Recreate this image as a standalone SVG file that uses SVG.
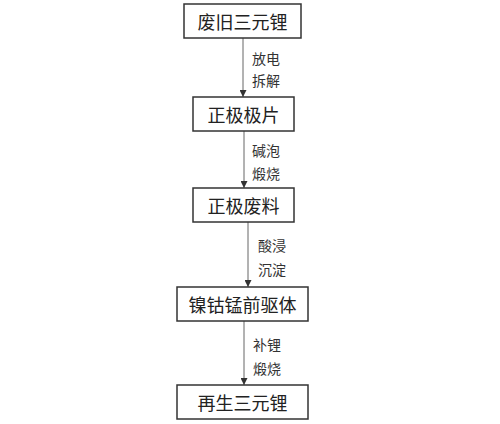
<svg xmlns="http://www.w3.org/2000/svg" width="500" height="424" viewBox="0 0 500 424">
<style>
.box{fill:#fff;stroke:#333;stroke-width:1.5}
.t{font-family:"Noto Sans CJK SC",sans-serif;font-size:18px;fill:#222;text-anchor:middle;dominant-baseline:central}
.l{font-family:"Noto Sans CJK SC",sans-serif;font-size:14px;fill:#333;dominant-baseline:central}
.c{stroke:#666;stroke-width:1;fill:none;marker-end:url(#ah)}
</style>
<defs>
<marker id="ah" viewBox="0 0 10 10" refX="10" refY="5" markerWidth="7" markerHeight="7" markerUnits="userSpaceOnUse" orient="auto">
<path d="M0,0 L10,5 L0,10 z" fill="#333"/>
</marker>
</defs>
<rect width="500" height="424" fill="#fff"/>
<g id="connectors">
<line class="c" x1="243" y1="38" x2="243" y2="97"/>
<line class="c" x1="244" y1="131" x2="244" y2="188"/>
<line class="c" x1="248" y1="222" x2="248" y2="287"/>
<line class="c" x1="244" y1="321" x2="244" y2="385"/>
<text class="l" x="252" y="58">放电</text>
<text class="l" x="252" y="80">拆解</text>
<text class="l" x="252" y="150">碱泡</text>
<text class="l" x="252" y="173">煅烧</text>
<text class="l" x="258" y="245">酸浸</text>
<text class="l" x="258" y="269">沉淀</text>
<text class="l" x="253" y="344">补锂</text>
<text class="l" x="253" y="368">煅烧</text>
</g>
<g id="n1"><rect class="box" x="184" y="4" width="117" height="34"/><text class="t" x="242.5" y="21">废旧三元锂</text></g>
<g id="n2"><rect class="box" x="193" y="97" width="101" height="34"/><text class="t" x="243.5" y="114">正极极片</text></g>
<g id="n3"><rect class="box" x="193" y="188" width="101" height="34"/><text class="t" x="243.5" y="205">正极废料</text></g>
<g id="n4"><rect class="box" x="177" y="287" width="131" height="34"/><text class="t" x="242.5" y="304">镍钴锰前驱体</text></g>
<g id="n5"><rect class="box" x="177" y="385" width="131" height="34"/><text class="t" x="242.5" y="402">再生三元锂</text></g>
</svg>
